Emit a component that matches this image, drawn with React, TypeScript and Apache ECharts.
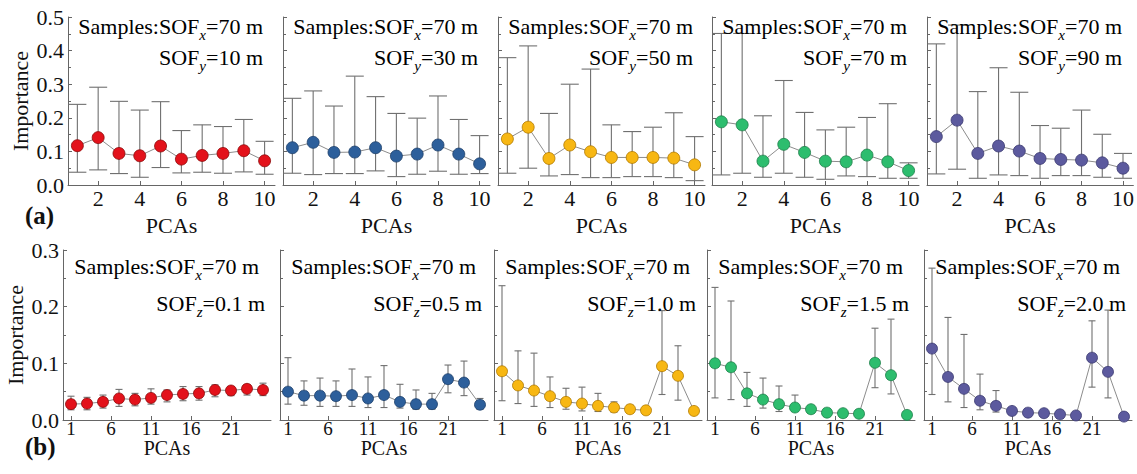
import React, { useEffect, useRef } from "react";
import * as echarts from "echarts";

// ---------- data ----------
const pcaTop = [1, 2, 3, 4, 5, 6, 7, 8, 9, 10];
const pcaBottom = [1, 3, 5, 7, 9, 11, 13, 15, 17, 19, 21, 23, 25];
const topTickValues = [2, 4, 6, 8, 10];
const bottomTickValues = [1, 6, 11, 16, 21];
const topYTicks = [0, 0.1, 0.2, 0.3, 0.4, 0.5];
const bottomYTicks = [0, 0.1, 0.2, 0.3];

const sofyLabels = ["10 m", "30 m", "50 m", "70 m", "90 m"];
const sofzLabels = ["0.1 m", "0.5 m", "1.0 m", "1.5 m", "2.0 m"];

// (a) SOFy panels
const meanY10 = [0.117, 0.141, 0.094, 0.087, 0.116, 0.077, 0.088, 0.094, 0.102, 0.072];
const upperY10 = [0.240, 0.291, 0.249, 0.223, 0.248, 0.162, 0.179, 0.174, 0.195, 0.130];
const lowerY10 = [0.038, 0.045, 0.034, 0.023, 0.052, 0.036, 0.038, 0.035, 0.039, 0.032];

const meanY30 = [0.111, 0.127, 0.097, 0.098, 0.111, 0.086, 0.092, 0.119, 0.092, 0.063];
const upperY30 = [0.258, 0.280, 0.235, 0.324, 0.263, 0.213, 0.199, 0.265, 0.195, 0.147];
const lowerY30 = [0.035, 0.031, 0.034, 0.034, 0.042, 0.025, 0.032, 0.041, 0.032, 0.034];

const meanY50 = [0.137, 0.172, 0.079, 0.119, 0.099, 0.082, 0.082, 0.082, 0.080, 0.060];
const upperY50 = [0.379, 0.414, 0.213, 0.300, 0.345, 0.179, 0.159, 0.172, 0.215, 0.144];
const lowerY50 = [0.035, 0.050, 0.027, 0.031, 0.022, 0.022, 0.025, 0.025, 0.022, 0.013];

const meanY70 = [0.188, 0.179, 0.071, 0.121, 0.097, 0.071, 0.069, 0.089, 0.069, 0.043];
const upperY70 = [0.451, 0.451, 0.206, 0.311, 0.216, 0.164, 0.172, 0.201, 0.242, 0.066];
const lowerY70 = [0.030, 0.035, 0.023, 0.035, 0.023, 0.017, 0.027, 0.025, 0.020, 0.020];

const meanY90 = [0.144, 0.193, 0.094, 0.116, 0.101, 0.079, 0.076, 0.074, 0.066, 0.050];
const upperY90 = [0.420, 0.476, 0.278, 0.349, 0.276, 0.177, 0.169, 0.223, 0.151, 0.094];
const lowerY90 = [0.033, 0.047, 0.020, 0.030, 0.028, 0.020, 0.028, 0.028, 0.023, 0.020];

// (b) SOFz panels
const meanZ01 = [0.028, 0.029, 0.032, 0.038, 0.036, 0.039, 0.044, 0.046, 0.047, 0.053, 0.052, 0.055, 0.053];
const upperZ01 = [0.042, 0.040, 0.044, 0.054, 0.047, 0.055, 0.053, 0.059, 0.059, 0.062, 0.059, 0.062, 0.065];
const lowerZ01 = [0.018, 0.018, 0.021, 0.024, 0.025, 0.028, 0.032, 0.034, 0.035, 0.041, 0.043, 0.044, 0.043];

const meanZ05 = [0.050, 0.043, 0.043, 0.042, 0.044, 0.038, 0.044, 0.032, 0.028, 0.028, 0.072, 0.066, 0.027];
const upperZ05 = [0.110, 0.069, 0.074, 0.069, 0.090, 0.076, 0.096, 0.063, 0.053, 0.047, 0.097, 0.104, 0.038];
const lowerZ05 = [0.028, 0.026, 0.024, 0.024, 0.024, 0.022, 0.022, 0.021, 0.019, 0.019, 0.048, 0.043, 0.019];

const meanZ10 = [0.086, 0.061, 0.052, 0.042, 0.032, 0.029, 0.025, 0.022, 0.019, 0.017, 0.095, 0.078, 0.016];
const upperZ10 = [0.237, 0.122, 0.118, 0.076, 0.056, 0.058, 0.047, 0.032, 0.026, 0.021, 0.193, 0.131, 0.018];
const lowerZ10 = [0.034, 0.029, 0.024, 0.022, 0.019, 0.016, 0.015, 0.014, 0.014, 0.013, 0.045, 0.035, 0.013];

const meanZ15 = [0.100, 0.093, 0.047, 0.036, 0.028, 0.022, 0.019, 0.013, 0.012, 0.011, 0.101, 0.079, 0.009];
const upperZ15 = [0.234, 0.210, 0.084, 0.074, 0.060, 0.044, 0.025, 0.016, 0.014, 0.013, 0.162, 0.178, 0.011];
const lowerZ15 = [0.039, 0.036, 0.024, 0.021, 0.015, 0.015, 0.013, 0.011, 0.009, 0.009, 0.057, 0.046, 0.007];

const meanZ20 = [0.126, 0.076, 0.055, 0.034, 0.025, 0.016, 0.013, 0.012, 0.010, 0.008, 0.110, 0.085, 0.006];
const upperZ20 = [0.268, 0.181, 0.151, 0.081, 0.052, 0.020, 0.016, 0.015, 0.013, 0.011, 0.175, 0.194, 0.008];
const lowerZ20 = [0.045, 0.032, 0.022, 0.018, 0.014, 0.011, 0.010, 0.009, 0.008, 0.007, 0.058, 0.039, 0.004];

const panelColors = ["#e3121b", "#2d5f9b", "#f7b713", "#2dbd6e", "#5c5a9e"];
const panelBorders = ["#8a0a0a", "#1d3f6a", "#b07800", "#1c7d47", "#3b3a70"];

// ---------- layout ----------
const SERIF = "'Liberation Serif', 'Times New Roman', serif";
const topLefts = [68, 283, 498, 712, 927];
const bottomLefts = [63, 280, 494, 707, 924];
const TOP_Y = 17, TOP_H = 168, TOP_W = 207;
const BOT_Y = 250, BOT_H = 170, BOT_W = 208;
const AXIS_COLOR = "#666";
const TEXT_COLOR = "#111";

function errorSeries(xs: number[], lo: number[], hi: number[], idx: number, capHalf: number) {
  return {
    type: "custom",
    xAxisIndex: idx,
    yAxisIndex: idx,
    z: 1,
    silent: true,
    encode: { x: 0, y: [1, 2] },
    data: xs.map((x, i) => [x, lo[i], hi[i]]),
    renderItem: (params: any, api: any) => {
      const x = api.value(0);
      const p1 = api.coord([x, api.value(2)]);
      const p0 = api.coord([x, api.value(1)]);
      const style = { stroke: "#707070", lineWidth: 1.1 };
      return {
        type: "group",
        children: [
          { type: "line", shape: { x1: p1[0], y1: p1[1], x2: p0[0], y2: p0[1] }, style },
          { type: "line", shape: { x1: p1[0] - capHalf, y1: p1[1], x2: p1[0] + capHalf, y2: p1[1] }, style },
          { type: "line", shape: { x1: p0[0] - capHalf, y1: p0[1], x2: p0[0] + capHalf, y2: p0[1] }, style },
        ],
      };
    },
  };
}

function meanSeries(xs: number[], mean: number[], idx: number, color: string, border: string, size: number) {
  return {
    type: "line",
    xAxisIndex: idx,
    yAxisIndex: idx,
    z: 3,
    data: xs.map((x, i) => [x, mean[i]]),
    symbol: "circle",
    symbolSize: size,
    itemStyle: { color, borderColor: border, borderWidth: 0.8 },
    lineStyle: { color: "#8c8c8c", width: 1 },
  };
}

const richStyle = {
  m: { fontFamily: SERIF, fontSize: 22, color: TEXT_COLOR, lineHeight: 26 },
  s: { fontFamily: SERIF, fontSize: 15, fontStyle: "italic", color: TEXT_COLOR, lineHeight: 15, verticalAlign: "top", padding: [14, 0, 0, 0] },
};

function annotation(x: number, y: number, sub: string, value: string) {
  return {
    type: "text",
    x,
    y,
    z: 10,
    style: {
      text: `{m|SOF}{s|${sub}}{m|=${value}}`,
      rich: richStyle,
      align: "right",
      verticalAlign: "middle",
    },
  };
}
function samplesText(x: number, y: number) {
  return {
    type: "text",
    x,
    y,
    z: 10,
    style: {
      text: "{m|Samples:SOF}{s|x}{m|=70 m}",
      rich: richStyle,
      align: "right",
      verticalAlign: "middle",
    },
  };
}

export default function App() {
  const ref = useRef<HTMLDivElement>(null);

  useEffect(() => {
    if (!ref.current) return;
    const chart = echarts.init(ref.current, undefined, { renderer: "svg" });

    const topPanels = [
      { mean: meanY10, upper: upperY10, lower: lowerY10 },
      { mean: meanY30, upper: upperY30, lower: lowerY30 },
      { mean: meanY50, upper: upperY50, lower: lowerY50 },
      { mean: meanY70, upper: upperY70, lower: lowerY70 },
      { mean: meanY90, upper: upperY90, lower: lowerY90 },
    ];
    const bottomPanels = [
      { mean: meanZ01, upper: upperZ01, lower: lowerZ01 },
      { mean: meanZ05, upper: upperZ05, lower: lowerZ05 },
      { mean: meanZ10, upper: upperZ10, lower: lowerZ10 },
      { mean: meanZ15, upper: upperZ15, lower: lowerZ15 },
      { mean: meanZ20, upper: upperZ20, lower: lowerZ20 },
    ];

    const grids: any[] = [];
    const xAxes: any[] = [];
    const yAxes: any[] = [];
    const series: any[] = [];
    const graphics: any[] = [];

    const axisCommon = {
      axisLine: { show: true, lineStyle: { color: AXIS_COLOR, width: 1 } },
      splitLine: { show: false },
      nameMoveOverlap: false,
    };

    topPanels.forEach((p, i) => {
      const idx = i;
      grids.push({ left: topLefts[i], top: TOP_Y, width: TOP_W, height: TOP_H });
      xAxes.push({
        ...axisCommon,
        gridIndex: idx,
        type: "value",
        min: 0.55,
        max: 10.5,
        axisTick: { show: true, inside: true, length: 4, customValues: topTickValues, lineStyle: { color: AXIS_COLOR } },
        axisLabel: { customValues: topTickValues, fontFamily: SERIF, fontSize: 22, color: TEXT_COLOR, margin: 2 },
        name: "PCAs",
        nameLocation: "middle",
        nameGap: 29,
        nameTextStyle: { fontFamily: SERIF, fontSize: 22, color: TEXT_COLOR },
      });
      yAxes.push({
        ...axisCommon,
        gridIndex: idx,
        type: "value",
        min: 0,
        max: 0.5,
        interval: 0.1,
        axisTick: { show: true, inside: true, length: 4, lineStyle: { color: AXIS_COLOR } },
        minorTick: { show: true, splitNumber: 2, length: 3, lineStyle: { color: AXIS_COLOR } },
        axisLabel: {
          show: i === 0,
          customValues: topYTicks,
          formatter: (v: number) => v.toFixed(1),
          fontFamily: SERIF,
          fontSize: 22,
          color: TEXT_COLOR,
          margin: 4,
        },
        name: i === 0 ? "Importance" : "",
        nameLocation: "middle",
        nameGap: 37,
        nameTextStyle: { fontFamily: SERIF, fontSize: 22, color: TEXT_COLOR },
      });
      series.push(errorSeries(pcaTop, p.lower, p.upper, idx, 9));
      series.push(meanSeries(pcaTop, p.mean, idx, panelColors[i], panelBorders[i], 12));
      graphics.push(samplesText(topLefts[i] + 195, 26));
      graphics.push(annotation(topLefts[i] + 195, 57, "y", sofyLabels[i]));
    });

    bottomPanels.forEach((p, i) => {
      const idx = i + 5;
      grids.push({ left: bottomLefts[i], top: BOT_Y, width: BOT_W, height: BOT_H });
      xAxes.push({
        ...axisCommon,
        gridIndex: idx,
        type: "value",
        min: 0,
        max: 26,
        axisTick: { show: true, inside: true, length: 4, customValues: bottomTickValues, lineStyle: { color: AXIS_COLOR } },
        axisLabel: { customValues: bottomTickValues, fontFamily: SERIF, fontSize: 19, color: TEXT_COLOR, margin: -1 },
        name: "PCAs",
        nameLocation: "middle",
        nameGap: 18,
        nameTextStyle: { fontFamily: SERIF, fontSize: 20, color: TEXT_COLOR },
      });
      yAxes.push({
        ...axisCommon,
        gridIndex: idx,
        type: "value",
        min: 0,
        max: 0.3,
        interval: 0.1,
        axisTick: { show: true, inside: true, length: 4, lineStyle: { color: AXIS_COLOR } },
        minorTick: { show: true, splitNumber: 2, length: 3, lineStyle: { color: AXIS_COLOR } },
        axisLabel: {
          show: i === 0,
          customValues: bottomYTicks,
          formatter: (v: number) => v.toFixed(1),
          fontFamily: SERIF,
          fontSize: 22,
          color: TEXT_COLOR,
          margin: 4,
        },
        name: i === 0 ? "Importance" : "",
        nameLocation: "middle",
        nameGap: 37,
        nameTextStyle: { fontFamily: SERIF, fontSize: 22, color: TEXT_COLOR },
      });
      series.push(errorSeries(pcaBottom, p.lower, p.upper, idx, 3.5));
      series.push(meanSeries(pcaBottom, p.mean, idx, panelColors[i], panelBorders[i], 11));
      graphics.push(samplesText(bottomLefts[i] + 196, 266));
      graphics.push(annotation(bottomLefts[i] + 202, 303, "z", sofzLabels[i]));
    });

    graphics.push({
      type: "text",
      left: 25,
      top: 203,
      style: { text: "(a)", fontFamily: SERIF, fontSize: 25, fontWeight: "bold", fill: TEXT_COLOR },
    });
    graphics.push({
      type: "text",
      left: 25,
      top: 434,
      style: { text: "(b)", fontFamily: SERIF, fontSize: 25, fontWeight: "bold", fill: TEXT_COLOR },
    });

    chart.setOption({
      animation: false,
      backgroundColor: "#ffffff",
      textStyle: { fontFamily: SERIF },
      grid: grids,
      xAxis: xAxes,
      yAxis: yAxes,
      series,
      graphic: graphics,
    });

    return () => chart.dispose();
  }, []);

  return (
    <div
      ref={ref}
      style={{ position: "fixed", left: 0, top: 0, width: 1137, height: 474, background: "#fff" }}
    />
  );
}
